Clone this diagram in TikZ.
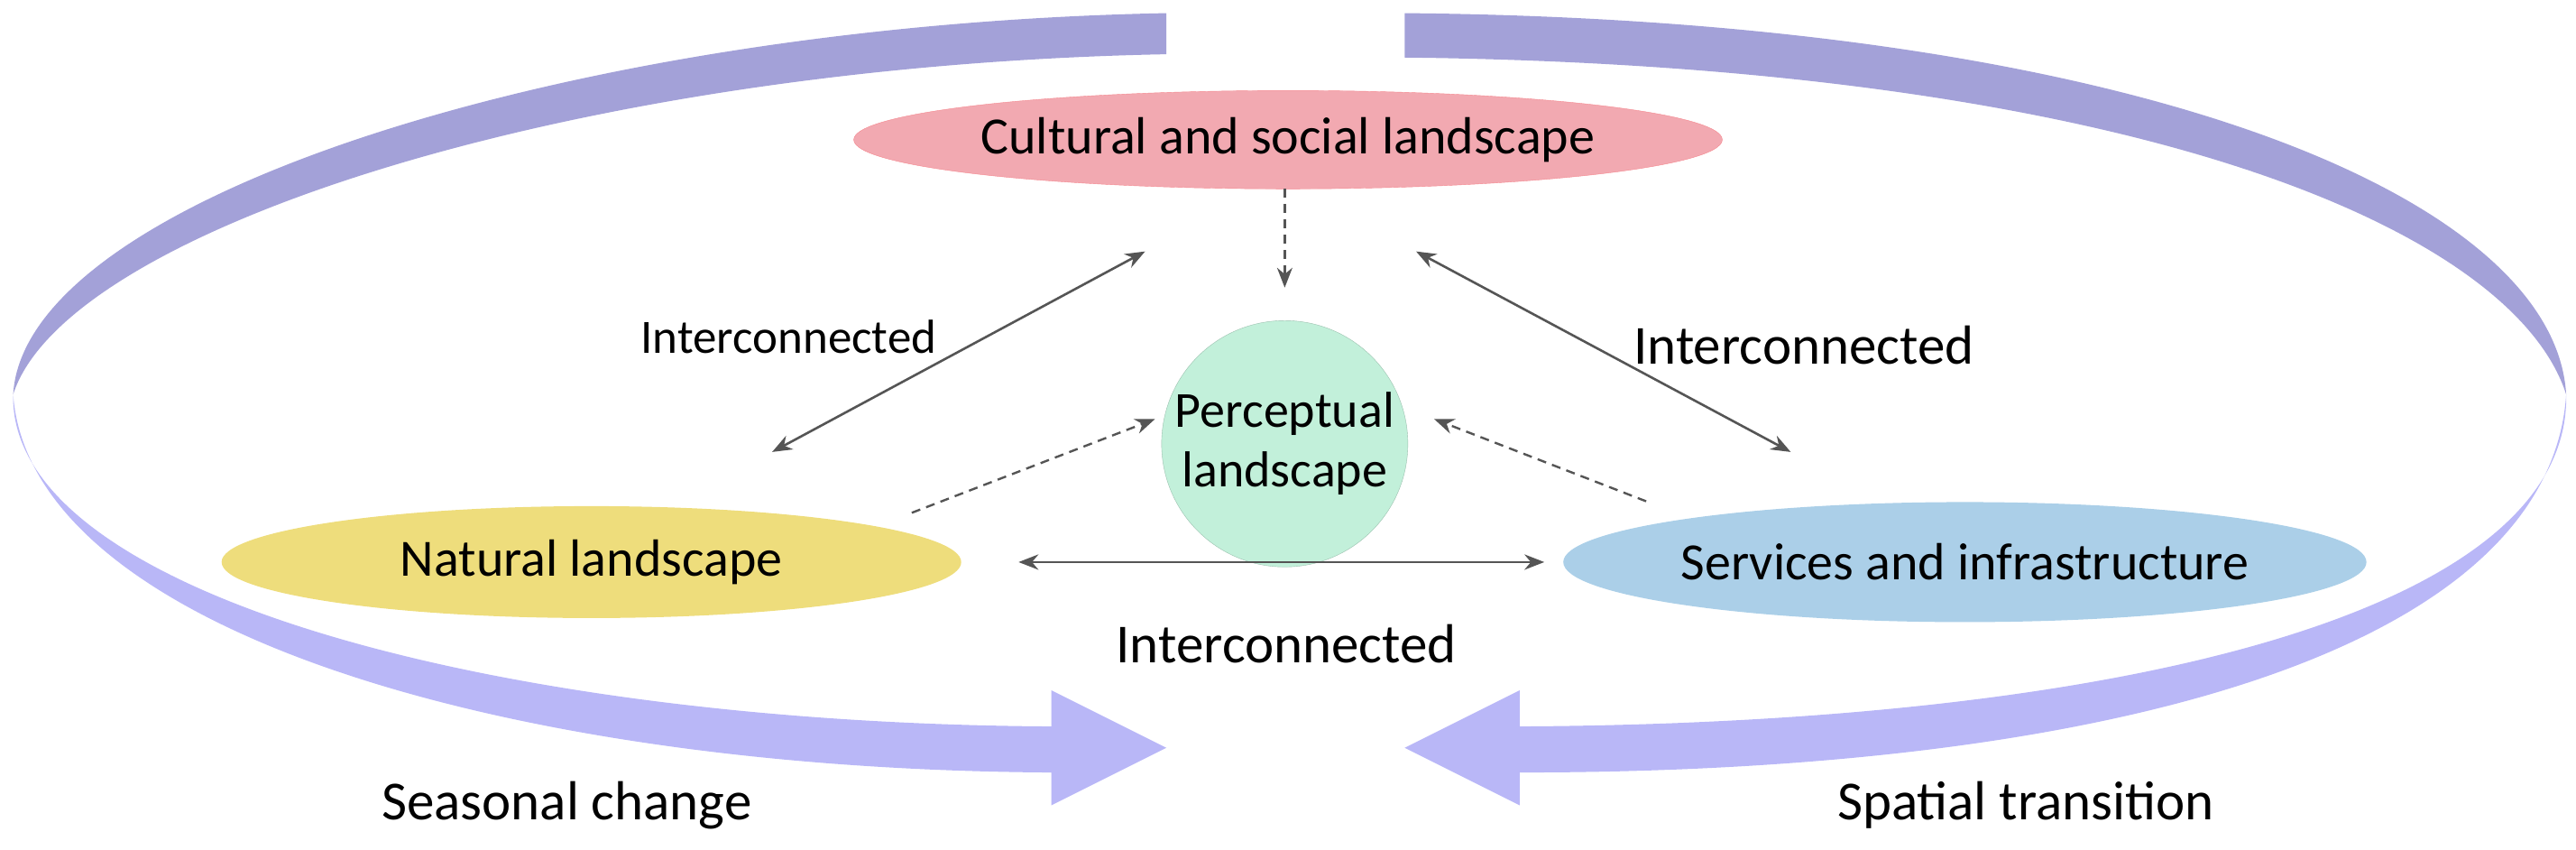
\documentclass[tikz,border=0pt]{standalone}
\usepackage{fontspec}
\setmainfont{Carlito}
\usetikzlibrary{shapes.geometric,arrows.meta}
\definecolor{rdark}{HTML}{A3A1D8}
\definecolor{rlight}{HTML}{B9B7F7}
\definecolor{cpink}{HTML}{F2A9B1}
\definecolor{cgreen}{HTML}{C2F0DA}
\definecolor{cyell}{HTML}{EEDD7C}
\definecolor{cblue}{HTML}{ABCFE8}
\definecolor{lgray}{HTML}{555555}
\begin{document}
\begin{tikzpicture}[x=1.8214pt,y=-1.8214pt,
  el/.style={ellipse,inner sep=0pt,font=\fontsize{58}{64}\selectfont},
  lbl/.style={font=\fontsize{61}{66}\selectfont},
  conn/.style={draw=lgray,line width=2.6pt,{Stealth[length=22pt,width=17pt]}-{Stealth[length=22pt,width=17pt]}},
  dconn/.style={draw=lgray,line width=2.4pt,dash pattern=on 10pt off 7pt,-{Stealth[length=22pt,width=17pt]}}]
\useasboundingbox (0,0) rectangle (1568,517);
% ribbons
\fill[rdark] (710,8) .. controls (350,15) and (15,120) .. (8,240) .. controls (40,140) and (350,40) .. (710,33) -- cycle;
\fill[rlight] (8,240) .. controls (5,360) and (300,440) .. (640,442) -- (640,420) -- (710,455) -- (640,490) -- (640,470) .. controls (300,468) and (18,380) .. (8,240) -- cycle;
\fill[rdark] (855,8) .. controls (1300,12) and (1555,120) .. (1562,240) .. controls (1530,140) and (1300,40) .. (855,35) -- cycle;
\fill[rlight] (1562,240) .. controls (1565,370) and (1300,440) .. (925,442) -- (925,420) -- (855,455) -- (925,490) -- (925,470) .. controls (1300,470) and (1552,390) .. (1562,240) -- cycle;
% nodes
\node[el,fill=cpink,draw=cpink!80!red,minimum width=820pt,minimum height=109pt] (cul) at (784,85) {Cultural and social landscape};
\node[circle,fill=cgreen,draw=cgreen!80!black,minimum size=273pt,inner sep=0pt,align=center,font=\fontsize{56}{66}\selectfont] (per) at (782,270) {Perceptual\\landscape};
\node[el,fill=cyell,minimum width=820pt,minimum height=124pt] (nat) at (360,342) {Natural landscape};
\node[el,fill=cblue,minimum width=816pt,minimum height=133pt] (ser) at (1196,342) {Services and infrastructure};
% coordinates
\coordinate (a1) at (470,275); \coordinate (a2) at (697,153);
\coordinate (b1) at (1090,275); \coordinate (b2) at (862,153);
\coordinate (c1) at (620,342); \coordinate (c2) at (940,342);
\coordinate (d1) at (782,115); \coordinate (d2) at (782,175);
\coordinate (e1) at (555,312); \coordinate (e2) at (703,255);
\coordinate (f1) at (1002,305); \coordinate (f2) at (873,255);
\draw[conn] (a1) -- (a2);
\draw[conn] (b1) -- (b2);
\draw[conn] (c1) -- (c2);
\draw[dconn] (d1) -- (d2);
\draw[dconn] (e1) -- (e2);
\draw[dconn] (f1) -- (f2);
% labels
\node[font=\fontsize{53}{58}\selectfont] (l1) at (480,205) {Interconnected};
\node[lbl] (l2) at (1098,210) {Interconnected};
\node[lbl] (l3) at (783,392) {Interconnected};
\node[lbl] (l4) at (345,490) {Seasonal change};
\node[lbl] (l5) at (1233,490) {Spatial transition};
\end{tikzpicture}
\end{document}
